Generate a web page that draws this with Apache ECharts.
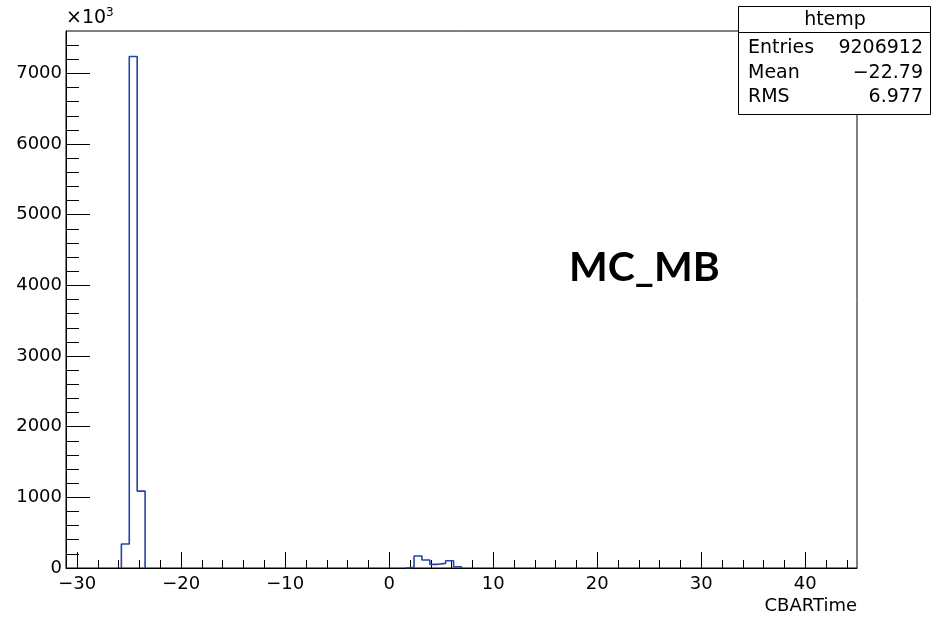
<!DOCTYPE html>
<html>
<head>
<meta charset="utf-8">
<script src="https://cdn.jsdelivr.net/npm/echarts@6/dist/echarts.min.js"></script>
<style>
html,body{margin:0;padding:0;background:#fff;}
#chart{width:932px;height:620px;}
</style>
</head>
<body>
<div id="chart"></div>
<script>
// Histogram definition (ROOT htemp): 100 bins
const histLow = -31.07;
const binWidth = 0.7605;
// non-empty bins (index) and their contents (in units of 10^3 entries)
const binIndex = [7, 8, 9, 43, 44, 45, 46, 47, 48, 49];
const binCounts = [340, 7240, 1088, 10, 170, 113, 52, 66, 103, 18];

const xRange = [-31.07, 44.98];
const yRange = [0, 7600];
const xMajorTicks = [-30, -20, -10, 0, 10, 20, 30, 40];
const xMinorTicks = [-30, -28, -26, -24, -22, -20, -18, -16, -14, -12, -10, -8, -6, -4, -2, 0, 2, 4, 6, 8, 10, 12, 14, 16, 18, 20, 22, 24, 26, 28, 30, 32, 34, 36, 38, 40, 42, 44];
const yMajorTicks = [0, 1000, 2000, 3000, 4000, 5000, 6000, 7000];
const yMinorTicks = [0, 200, 400, 600, 800, 1000, 1200, 1400, 1600, 1800, 2000, 2200, 2400, 2600, 2800, 3000, 3200, 3400, 3600, 3800, 4000, 4200, 4400, 4600, 4800, 5000, 5200, 5400, 5600, 5800, 6000, 6200, 6400, 6600, 6800, 7000, 7200, 7400];

const statsTitle = 'htemp';
const statsLabels = ['Entries', 'Mean', 'RMS'];
const statsValues = ['9206912', '\u221222.79', '6.977'];
const xTitle = 'CBARTime';
const annotation = 'MC_MB';

// build step outline from the bins (contiguous groups)
const outline = [];
for (let i = 0; i < binIndex.length; i++) {
  const lo = histLow + binIndex[i] * binWidth;
  const hi = lo + binWidth;
  const startGroup = i === 0 || binIndex[i - 1] !== binIndex[i] - 1;
  const endGroup = i === binIndex.length - 1 || binIndex[i + 1] !== binIndex[i] + 1;
  if (startGroup) outline.push([lo, 0]);
  outline.push([lo, binCounts[i]]);
  outline.push([hi, binCounts[i]]);
  if (endGroup) { outline.push([hi, 0]); outline.push(null); }
}

const FONT = 'DejaVu Sans';
const chart = echarts.init(document.getElementById('chart'), null, {renderer: 'canvas'});
const minus = v => String(v).replace('-', '\u2212');

const option = {
  animation: false,
  backgroundColor: '#fff',
  grid: {left: 66, right: 75, top: 31, bottom: 52, show: true, borderColor: '#000', borderWidth: 1, backgroundColor: 'transparent', containLabel: false, outerBoundsMode: 'none'},
  xAxis: [
    {
      type: 'value', min: xRange[0], max: xRange[1], position: 'bottom',
      axisLine: {show: true, onZero: false, lineStyle: {color: '#000', width: 1}},
      axisTick: {show: true, inside: true, length: 16, customValues: xMajorTicks, lineStyle: {color: '#000', width: 1}},
      axisLabel: {show: true, customValues: xMajorTicks, margin: 7, color: '#000', fontFamily: FONT, fontSize: 18, formatter: minus},
      splitLine: {show: false}
    },
    {
      type: 'value', min: xRange[0], max: xRange[1], position: 'bottom',
      axisLine: {show: false, onZero: false},
      axisTick: {show: true, inside: true, length: 8, customValues: xMinorTicks, lineStyle: {color: '#000', width: 1}},
      axisLabel: {show: false},
      splitLine: {show: false}
    }
  ],
  yAxis: [
    {
      type: 'value', min: yRange[0], max: yRange[1], position: 'left',
      axisLine: {show: true, onZero: false, lineStyle: {color: '#000', width: 1}},
      axisTick: {show: true, inside: true, length: 24, customValues: yMajorTicks, lineStyle: {color: '#000', width: 1}},
      axisLabel: {show: true, customValues: yMajorTicks, margin: 4, color: '#000', fontFamily: FONT, fontSize: 18, formatter: v => String(v)},
      splitLine: {show: false}
    },
    {
      type: 'value', min: yRange[0], max: yRange[1], position: 'left',
      axisLine: {show: false, onZero: false},
      axisTick: {show: true, inside: true, length: 13, customValues: yMinorTicks, lineStyle: {color: '#000', width: 1}},
      axisLabel: {show: false},
      splitLine: {show: false}
    }
  ],
  series: [{
    type: 'line', xAxisIndex: 0, yAxisIndex: 0,
    data: outline, showSymbol: false, symbol: 'none', connectNulls: false,
    lineStyle: {color: '#2444a6', width: 1.6}, z: 3
  }],
  graphic: [
    {
      type: 'text', left: 66, top: 7, z: 10,
      style: {text: '\u00d710{sup|3}', fill: '#000', font: '19px "DejaVu Sans"',
        rich: {sup: {fontSize: 12, fontFamily: FONT, verticalAlign: 'top', padding: [0, 0, 10, 0], fill: '#000'}}}
    },
    {
      type: 'text', right: 75, top: 597, z: 10,
      style: {text: xTitle, fill: '#000', font: '18px "DejaVu Sans"'}
    },
    {
      type: 'text', x: 569, y: 268, z: 10,
      style: {text: annotation, fill: '#000', font: 'bold 41px Lato', verticalAlign: 'middle', align: 'left'}
    },
    {
      type: 'group', z: 20,
      children: [
        {type: 'rect', shape: {x: 738.5, y: 6.5, width: 192, height: 108}, style: {fill: '#fff', stroke: '#000', lineWidth: 1}, z: 20},
        {type: 'line', shape: {x1: 738.5, y1: 32.5, x2: 930.5, y2: 32.5}, style: {stroke: '#000', lineWidth: 1}, z: 21},
        {type: 'text', x: 835, y: 20, z: 21, style: {text: statsTitle, fill: '#000', font: '19px "DejaVu Sans"', align: 'center', verticalAlign: 'middle'}},
        {type: 'text', x: 748, y: 48, z: 21, style: {text: statsLabels[0], fill: '#000', font: '19px "DejaVu Sans"', align: 'left', verticalAlign: 'middle'}},
        {type: 'text', x: 748, y: 73, z: 21, style: {text: statsLabels[1], fill: '#000', font: '19px "DejaVu Sans"', align: 'left', verticalAlign: 'middle'}},
        {type: 'text', x: 748, y: 97, z: 21, style: {text: statsLabels[2], fill: '#000', font: '19px "DejaVu Sans"', align: 'left', verticalAlign: 'middle'}},
        {type: 'text', x: 923, y: 48, z: 21, style: {text: statsValues[0], fill: '#000', font: '19px "DejaVu Sans"', align: 'right', verticalAlign: 'middle'}},
        {type: 'text', x: 923, y: 73, z: 21, style: {text: statsValues[1], fill: '#000', font: '19px "DejaVu Sans"', align: 'right', verticalAlign: 'middle'}},
        {type: 'text', x: 923, y: 97, z: 21, style: {text: statsValues[2], fill: '#000', font: '19px "DejaVu Sans"', align: 'right', verticalAlign: 'middle'}}
      ]
    }
  ]
};
chart.setOption(option);
</script>
</body>
</html>
